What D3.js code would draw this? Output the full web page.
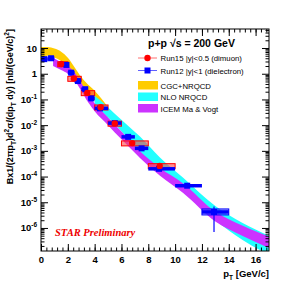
<!DOCTYPE html>
<meta charset="utf-8">
<style>
body { margin: 0; background: #fff; }
text { font-family: "Liberation Sans", Arial, sans-serif; }
.tick-label { font-size: 9.5px; font-weight: bold; }
.leg { font-size: 7.8px; }
</style>
<body>
<script src="https://d3js.org/d3.v7.min.js"></script>
<script>

// Run12 |y|<1 dielectron (blue)
var run12X  = [0.25, 0.75, 1.9, 2.25, 2.75, 3.3, 3.75, 4.4, 5.5, 6.5, 7.5, 8.8, 10.9, 12.9];
var run12Y  = [3.7, 4.0, 2.2, 1.1, 0.52, 0.25, 0.11, 0.045, 0.012, 3.5e-3, 1.25e-3, 2.0e-4, 4.4e-5, 4.2e-6];
var run12Lo = [0, 0.5, 1.5, 2.0, 2.5, 3.0, 3.5, 4.0, 5.0, 6.0, 7.0, 8.0, 10.0, 12.0];
var run12Hi = [0.5, 1.0, 2.0, 2.5, 3.0, 3.5, 4.0, 5.0, 6.0, 7.0, 8.0, 10.0, 12.0, 14.0];
var run12ErrLo = [3.5, 3.8, 2.1, 1.05, 0.5, 0.24, 0.105, 0.042, 0.011, 3.2e-3, 1.1e-3, 1.7e-4, 3.6e-5, 7e-7];
var run12ErrHi = [3.9, 4.2, 2.3, 1.15, 0.55, 0.26, 0.115, 0.048, 0.013, 3.8e-3, 1.4e-3, 2.3e-4, 5.3e-5, 6.8e-6];

// Run15 |y|<0.5 dimuon (red)
var run15X  = [1.5, 2.45, 3.45, 4.45, 5.5, 6.8, 8.85];
var run15Y  = [2.4, 0.65, 0.18, 0.05, 0.0117, 0.002, 2.6e-4];
var run15Lo = [1.25, 2.0, 3.0, 4.0, 5.0, 6.0, 8.0];
var run15Hi = [2.0, 3.0, 4.0, 5.0, 6.0, 8.0, 10.0];
var run15Sys = [0.22, 0.22, 0.22, 0.22, 0.22, 0.22, 0.22];

// CGC+NRQCD band
var cgcX  = [0, 0.5, 1.0, 1.5, 2.0, 2.5, 3.0, 3.5, 4.0, 4.5, 5.0];
var cgcHi = [11, 11, 9.5, 7.2, 4.2, 1.8, 0.75, 0.38, 0.22, 0.11, 0.05];
var cgcLo = [4.8, 5.0, 4.3, 3.1, 1.8, 0.8, 0.33, 0.16, 0.09, 0.045, 0.02];

// NLO NRQCD band
var nloX  = [4.0, 4.4, 5.5, 7.4, 8.85, 10.6, 13, 15, 17];
var nloHi = [0.14, 0.095, 0.028, 3.5e-3, 5.6e-4, 8.9e-5, 7.1e-6, 1.6e-6, 5e-7];
var nloLo = [0.06, 0.039, 0.011, 8.1e-4, 1.4e-4, 2.5e-5, 2e-6, 3.5e-7, 9e-8];

// ICEM Ma & Vogt band
var icemX  = [0.9, 1.5, 2.0, 2.5, 3.0, 3.5, 4.0, 5.0, 6.0, 7.4, 8.85, 10.6, 13, 15, 17];
var icemHi = [4.2, 2.8, 2.0, 1.12, 0.45, 0.16, 0.071, 0.02, 5.6e-3, 9.5e-4, 2.2e-4, 5.4e-5, 4.3e-6, 1.26e-6, 4.7e-7];
var icemLo = [2.0, 1.4, 1.0, 0.56, 0.22, 0.079, 0.035, 0.01, 2.8e-3, 5.2e-4, 1.1e-4, 2.3e-5, 1.8e-6, 5e-7, 1.66e-7];

var xTicks = [0, 2, 4, 6, 8, 10, 12, 14, 16];
var yDecades = [-6, -5, -4, -3, -2, -1, 0, 1];

var W = 299, H = 287;
var L = 41, R = 269, T = 29, B = 251;

var x = d3.scaleLinear().domain([0, 17]).range([L, R]);
var y = d3.scaleLog().domain([1.27e-7, 55]).range([B, T]);

var svg = d3.select("body").append("svg")
    .attr("width", W)
    .attr("height", H);

svg.append("rect").attr("width", W).attr("height", H).attr("fill", "#fff");

svg.append("clipPath").attr("id", "plot")
  .append("rect")
    .attr("x", L).attr("y", T)
    .attr("width", R - L).attr("height", B - T);

var plot = svg.append("g").attr("clip-path", "url(#plot)");

function band(xs, lo, hi) {
  return xs.map(function(v, i) { return {x: v, lo: lo[i], hi: hi[i]}; });
}

var area = d3.area()
    .x(function(d) { return x(d.x); })
    .y0(function(d) { return y(d.lo); })
    .y1(function(d) { return y(d.hi); })
    .curve(d3.curveMonotoneX);

plot.append("path").datum(band(cgcX, cgcLo, cgcHi)).attr("d", area).attr("fill", "#ffcc00");
plot.append("path").datum(band(nloX, nloLo, nloHi)).attr("d", area).attr("fill", "#22ffff");
plot.append("path").datum(band(icemX, icemLo, icemHi)).attr("d", area).attr("fill", "#cc33ff");

var red = run15X.map(function(v, i) {
  return {x: v, y: run15Y[i], lo: run15Lo[i], hi: run15Hi[i], s: run15Sys[i]};
});
var blue = run12X.map(function(v, i) {
  return {x: v, y: run12Y[i], lo: run12Lo[i], hi: run12Hi[i], elo: run12ErrLo[i], ehi: run12ErrHi[i]};
});

// red systematic boxes
plot.selectAll(".sys15").data(red).enter().append("rect")
    .attr("x", function(d) { return x(d.lo); })
    .attr("width", function(d) { return x(d.hi) - x(d.lo); })
    .attr("y", function(d) { return y(d.y * (1 + d.s)); })
    .attr("height", function(d) { return y(d.y * (1 - d.s)) - y(d.y * (1 + d.s)); })
    .attr("fill", "rgba(255,70,70,0.6)")
    .attr("stroke", "#ff0000")
    .attr("stroke-width", 1);

// last blue point has a visible systematic box
var lastBlue = blue[blue.length - 1];
plot.append("rect")
    .attr("x", x(lastBlue.lo))
    .attr("width", x(lastBlue.hi) - x(lastBlue.lo))
    .attr("y", y(lastBlue.y) - 3)
    .attr("height", 6)
    .attr("fill", "rgba(90,90,255,0.55)")
    .attr("stroke", "#0000ff")
    .attr("stroke-width", 1);

// blue error bars
plot.selectAll(".ex12").data(blue).enter().append("line")
    .attr("x1", function(d) { return x(d.lo); })
    .attr("x2", function(d) { return x(d.hi); })
    .attr("y1", function(d) { return y(d.y); })
    .attr("y2", function(d) { return y(d.y); })
    .attr("stroke", "#0000ff")
    .attr("stroke-width", 3.5);

plot.selectAll(".ey12").data(blue).enter().append("line")
    .attr("x1", function(d) { return x(d.x); })
    .attr("x2", function(d) { return x(d.x); })
    .attr("y1", function(d) { return y(d.elo); })
    .attr("y2", function(d) { return y(d.ehi); })
    .attr("stroke", "#0000ff")
    .attr("stroke-width", 1.2);

plot.selectAll(".m12").data(blue).enter().append("rect")
    .attr("x", function(d) { return x(d.x) - 3; })
    .attr("y", function(d) { return y(d.y) - 3; })
    .attr("width", 6).attr("height", 6)
    .attr("fill", "#0000ff");

plot.selectAll(".m15").data(red).enter().append("circle")
    .attr("cx", function(d) { return x(d.x); })
    .attr("cy", function(d) { return y(d.y); })
    .attr("r", 3.2)
    .attr("fill", "#ff0000");

// frame
svg.append("rect")
    .attr("x", L).attr("y", T)
    .attr("width", R - L).attr("height", B - T)
    .attr("fill", "none").attr("stroke", "#000").attr("stroke-width", 1);

// x ticks (inward, bottom and top)
var xMinor = d3.range(0, 17.01, 0.4);
svg.append("g").attr("transform", "translate(0," + B + ")")
    .call(d3.axisBottom(x).tickValues(xMinor).tickSize(-3.5).tickFormat("").tickSizeOuter(0))
    .call(function(g) { g.select(".domain").remove(); });
svg.append("g").attr("transform", "translate(0," + B + ")")
    .call(d3.axisBottom(x).tickValues(xTicks).tickSize(-7).tickPadding(5).tickSizeOuter(0))
    .call(function(g) {
      g.select(".domain").remove();
      g.selectAll("text").attr("class", "tick-label").attr("fill", "#000");
    });
svg.append("g").attr("transform", "translate(0," + T + ")")
    .call(d3.axisTop(x).tickValues(xMinor).tickSize(-3.5).tickFormat("").tickSizeOuter(0))
    .call(function(g) { g.select(".domain").remove(); });
svg.append("g").attr("transform", "translate(0," + T + ")")
    .call(d3.axisTop(x).tickValues(xTicks).tickSize(-7).tickFormat("").tickSizeOuter(0))
    .call(function(g) { g.select(".domain").remove(); });

// y ticks (log)
var yMajor = yDecades.map(function(k) { return Math.pow(10, k); });
var yMinor = [];
d3.range(-7, 2).forEach(function(k) {
  d3.range(2, 10).forEach(function(m) {
    var v = m * Math.pow(10, k);
    if (v > 1.27e-7 && v < 55) yMinor.push(v);
  });
});
[[L, d3.axisLeft], [R, d3.axisRight]].forEach(function(s) {
  svg.append("g").attr("transform", "translate(" + s[0] + ",0)")
      .call(s[1](y).tickValues(yMinor).tickSize(-3.5).tickFormat("").tickSizeOuter(0))
      .call(function(g) { g.select(".domain").remove(); });
  svg.append("g").attr("transform", "translate(" + s[0] + ",0)")
      .call(s[1](y).tickValues(yMajor).tickSize(-7).tickFormat("").tickSizeOuter(0))
      .call(function(g) { g.select(".domain").remove(); });
});

var yl = svg.append("g").selectAll("text").data(yDecades).enter().append("text")
    .attr("class", "tick-label")
    .attr("text-anchor", "end")
    .attr("x", 37)
    .attr("y", function(k) { return y(Math.pow(10, k)) + 3.5; });
yl.each(function(k) {
  var t = d3.select(this);
  if (k === 1) { t.text("10"); }
  else if (k === 0) { t.text("1"); }
  else {
    t.append("tspan").text("10");
    t.append("tspan").attr("dy", -4).style("font-size", "6.5px").text(k);
  }
});

// axis titles
var xt = svg.append("text")
    .attr("x", R).attr("y", 277)
    .attr("text-anchor", "end")
    .style("font-size", "9.5px").style("font-weight", "bold");
xt.append("tspan").text("p");
xt.append("tspan").attr("dy", 3).style("font-size", "6.5px").text("T");
xt.append("tspan").attr("dy", -3).text(" [GeV/c]");

var ytl = svg.append("text")
    .attr("transform", "translate(13," + T + ") rotate(-90)")
    .attr("text-anchor", "end")
    .style("font-size", "9px").style("font-weight", "bold");
[["Bx1/(2\u03c0p", 0], ["T", 3], [")d", -3], ["2", -4], ["\u03c3/(dp", 4], ["T", 3], [" dy) [nb/(GeV/c)", -3], ["2", -4], ["]", 4]]
  .forEach(function(p) {
    var small = (p[0] === "T" || p[0] === "2");
    ytl.append("tspan").attr("dy", p[1]).style("font-size", small ? "6.5px" : null).text(p[0]);
  });

// legend
svg.append("text")
    .attr("x", 148).attr("y", 47)
    .style("font-size", "10.5px").style("font-weight", "bold")
    .text("p+p  \u221as = 200 GeV");

svg.append("line").attr("x1", 138).attr("x2", 157).attr("y1", 58).attr("y2", 58)
    .attr("stroke", "#ff7070").attr("stroke-width", 1);
svg.append("circle").attr("cx", 147.5).attr("cy", 58).attr("r", 3.2).attr("fill", "#ff0000");
svg.append("line").attr("x1", 138).attr("x2", 157).attr("y1", 70.5).attr("y2", 70.5)
    .attr("stroke", "#6060ff").attr("stroke-width", 1);
svg.append("rect").attr("x", 144.5).attr("y", 67.5).attr("width", 6).attr("height", 6).attr("fill", "#0000ff");

var legBoxes = [["#ffcc00", 85.5, "CGC+NRQCD"], ["#22ffff", 97, "NLO NRQCD"], ["#cc33ff", 108.5, "ICEM Ma & Vogt"]];
legBoxes.forEach(function(b) {
  svg.append("rect").attr("x", 138).attr("y", b[1] - 4.5).attr("width", 20).attr("height", 8.5).attr("fill", b[0]);
  svg.append("text").attr("class", "leg").attr("x", 160.5).attr("y", b[1] + 3).text(b[2]);
});
svg.append("text").attr("class", "leg").attr("x", 160.5).attr("y", 61).text("Run15 |y|<0.5 (dimuon)");
svg.append("text").attr("class", "leg").attr("x", 160.5).attr("y", 73.5).text("Run12 |y|<1 (dielectron)");

svg.append("text")
    .attr("x", 55).attr("y", 236)
    .style("font-family", "'Liberation Serif', 'Times New Roman', serif")
    .style("font-size", "10.5px").style("font-weight", "bold").style("font-style", "italic")
    .attr("fill", "#ee0000")
    .text("STAR Preliminary");

</script>
